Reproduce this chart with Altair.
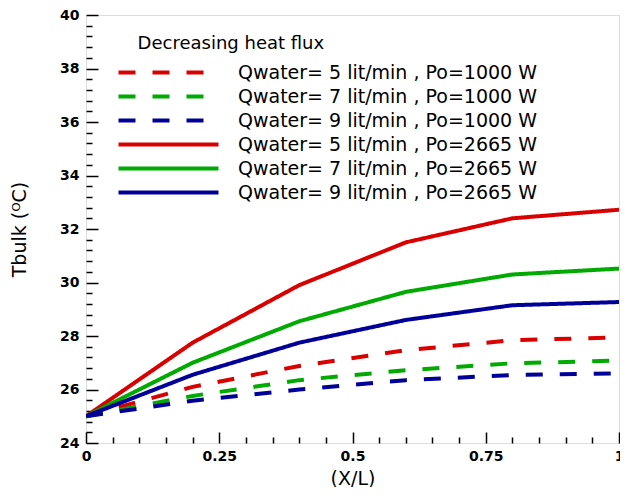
import altair as alt
import pandas as pd

x_vals = [0.0, 0.2, 0.4, 0.6, 0.8, 1.0]
series_names = [
    "Qwater= 5 lit/min , Po=1000 W",
    "Qwater= 7 lit/min , Po=1000 W",
    "Qwater= 9 lit/min , Po=1000 W",
    "Qwater= 5 lit/min , Po=2665 W",
    "Qwater= 7 lit/min , Po=2665 W",
    "Qwater= 9 lit/min , Po=2665 W",
]
q5_1000 = [25.0, 26.1, 26.88, 27.47, 27.84, 27.95]
q7_1000 = [25.0, 25.76, 26.35, 26.72, 26.98, 27.08]
q9_1000 = [25.0, 25.58, 26.0, 26.35, 26.54, 26.6]
q5_2665 = [25.0, 27.75, 29.9, 31.5, 32.4, 32.72]
q7_2665 = [25.0, 27.0, 28.55, 29.65, 30.3, 30.52]
q9_2665 = [25.0, 26.55, 27.75, 28.6, 29.15, 29.27]
series_values = [q5_1000, q7_1000, q9_1000, q5_2665, q7_2665, q9_2665]
colors = ["#d90000", "#00aa00", "#000099", "#d90000", "#00aa00", "#000099"]
dashes = [[17, 17], [17, 17], [17, 17], [1, 0], [1, 0], [1, 0]]

x_major = [0, 0.25, 0.5, 0.75, 1]
x_minor = [round(i * 0.05, 2) for i in range(21)]
y_major = [24, 26, 28, 30, 32, 34, 36, 38, 40]
y_minor = [round(24 + i * 0.4, 1) for i in range(41)]

rows = []
for name, vals in zip(series_names, series_values):
    for xv, yv in zip(x_vals, vals):
        rows.append({"x": xv, "y": yv, "s": name})
df = pd.DataFrame(rows)

FONT = "DejaVu Sans"
W, H = 533, 428

xscale = alt.Scale(domain=[0, 1], nice=False, zero=False)
yscale = alt.Scale(domain=[24, 40], nice=False, zero=False)

legend = alt.Legend(
    title="\u200b" + "\u00a0" * 5 + "Decreasing heat flux",
    orient="none", legendX=23, legendY=20,
    symbolType="M0,0H20", symbolSize=100, symbolStrokeWidth=4,
    symbolFillColor="transparent",
    labelFont=FONT, labelFontSize=19, labelColor="black",
    titleFont=FONT, titleFontSize=18, titleFontWeight="normal",
    titleColor="black", titlePadding=10, titleLimit=500, labelOffset=110,
    rowPadding=4, labelLimit=500)

lines = alt.Chart(df).mark_line(strokeWidth=4, clip=True).encode(
    x=alt.X("x:Q", scale=xscale, axis=alt.Axis(
        orient="bottom", values=x_major, format=".2~f", title="(X/L)",
        tickSize=0, domain=False, grid=False, labelPadding=6,
        labelFont=FONT, labelFontSize=14, labelFontWeight="bold", labelColor="black",
        titleFont=FONT, titleFontSize=19, titleFontWeight="normal", titleColor="black",
        titlePadding=6, labelFlush=False)),
    y=alt.Y("y:Q", scale=yscale, axis=alt.Axis(
        orient="left", values=y_major, title="Tbulk (ᴼC)",
        tickSize=0, domain=False, grid=False, labelPadding=7,
        labelFont=FONT, labelFontSize=14, labelFontWeight="bold", labelColor="black",
        titleFont=FONT, titleFontSize=19, titleFontWeight="normal", titleColor="black",
        titlePadding=30, labelFlush=False)),
    color=alt.Color("s:N", scale=alt.Scale(domain=series_names, range=colors), legend=legend),
    strokeDash=alt.StrokeDash("s:N", scale=alt.Scale(domain=series_names, range=dashes), legend=legend),
)

tick_cond_y = {"condition": {"test": "abs(datum.value - round(datum.value / 2) * 2) < 0.01", "value": 12}, "value": 6}
tick_cond_x = {"condition": {"test": "abs(datum.value * 4 - round(datum.value * 4)) < 0.01", "value": 11}, "value": 6}

ticks = alt.Chart(df).mark_line(opacity=0).encode(
    x=alt.X("x:Q", scale=xscale, axis=alt.Axis(
        orient="top", offset=-H, values=x_minor, labels=False, title=None,
        domain=False, grid=False, tickSize=tick_cond_x, tickColor="black", tickWidth=1.5)),
    y=alt.Y("y:Q", scale=yscale, axis=alt.Axis(
        orient="right", offset=-W, values=y_minor, labels=False, title=None,
        domain=False, grid=False, tickSize=tick_cond_y, tickColor="black", tickWidth=1.5)),
    detail="s:N",
)

chart = alt.layer(lines, ticks).resolve_axis(x="independent", y="independent").properties(
    width=W, height=H,
    autosize=alt.AutoSizeParams(type="none"),
    padding={"left": 78, "top": 7, "right": 1, "bottom": 44},
).configure_view(stroke="black", strokeWidth=2.5).configure(background="white")

chart.save("out.html", embed_options={"renderer": "svg", "actions": False})
